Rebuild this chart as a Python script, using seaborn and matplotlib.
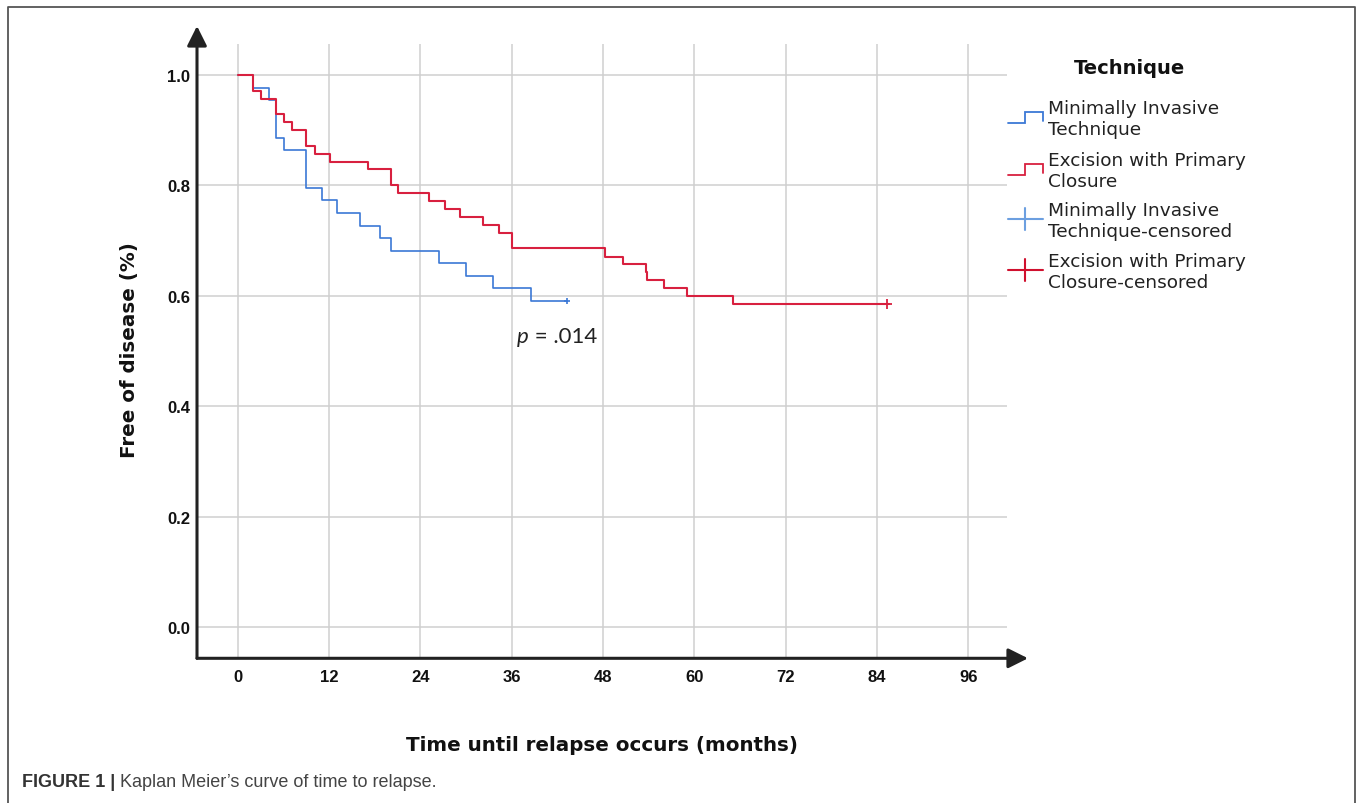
import numpy as np
import pandas as pd
import matplotlib
matplotlib.use("Agg")
import matplotlib.pyplot as plt
import seaborn as sns

# ---------------- data ----------------
mit_time = [0, 2.0, 4.1, 5.0, 6.1, 9.0, 11.1, 13.1, 16.1, 18.7, 20.1, 26.5, 30.0, 33.6, 38.6, 43.3]
mit_surv = [1.0, 0.977, 0.955, 0.886, 0.864, 0.795, 0.773, 0.750, 0.727, 0.705, 0.682, 0.659,
            0.636, 0.614, 0.591, 0.591]
mit_cens_time = [43.3]
mit_cens_surv = [0.591]

epc_time = [0, 2.0, 3.0, 5.0, 6.1, 7.2, 9.0, 10.1, 12.1, 17.1, 20.2, 21.1, 25.1, 27.2, 29.2,
            32.2, 34.3, 36.1, 48.3, 50.6, 53.6, 53.8, 56.0, 59.1, 65.1, 85.6]
epc_surv = [1.0, 0.971, 0.957, 0.929, 0.914, 0.900, 0.871, 0.857, 0.843, 0.829, 0.800, 0.786,
            0.771, 0.757, 0.743, 0.729, 0.714, 0.686, 0.671, 0.657, 0.643, 0.629, 0.614, 0.600,
            0.586, 0.586]
epc_cens_time = [85.3]
epc_cens_surv = [0.586]

x_ticks = [0, 12, 24, 36, 48, 60, 72, 84, 96]
y_ticks = [0.0, 0.2, 0.4, 0.6, 0.8, 1.0]
y_tick_labels = ["0.0", "0.2", "0.4", "0.6", "0.8", "1.0"]

legend_title = "Technique"
legend_labels = ["Minimally Invasive\nTechnique",
                 "Excision with Primary\nClosure",
                 "Minimally Invasive\nTechnique-censored",
                 "Excision with Primary\nClosure-censored"]
x_label = "Time until relapse occurs (months)"
y_label = "Free of disease (%)"
p_text = " = .014"
caption_bold = "FIGURE 1 | "
caption_rest = "Kaplan Meier\u2019s curve of time to relapse."

BLUE = "#3b78d6"
BLUE_C = "#6c9fe0"
RED = "#d8203f"
RED_C = "#d0102e"

df_mit = pd.DataFrame({"time": mit_time, "surv": mit_surv})
df_epc = pd.DataFrame({"time": epc_time, "surv": epc_surv})

# ---------------- figure ----------------
sns.set_style("white")
plt.rcParams["font.family"] = ["DejaVu Sans"]

W, H = 1358, 804
fig = plt.figure(figsize=(W / 100, H / 100), dpi=100)

ax_l, ax_r, ax_t, ax_b = 197, 1007, 45, 659.3
ax = fig.add_axes([ax_l / W, 1 - ax_b / H, (ax_r - ax_l) / W, (ax_b - ax_t) / H])
ax.set_xlim(-5.35, 101.1)
ax.set_ylim(-0.0561, 1.0561)

ax.set_xticks(x_ticks)
ax.set_yticks(y_ticks)
ax.set_yticklabels(y_tick_labels)
ax.grid(True, color="#cfcfcf", lw=1.1)
ax.set_axisbelow(True)
for s in ax.spines.values():
    s.set_visible(False)
ax.tick_params(axis="both", length=0)
ax.tick_params(axis="x", pad=8)
ax.tick_params(axis="y", pad=5)
for lab in ax.get_xticklabels() + ax.get_yticklabels():
    lab.set_fontfamily("Liberation Sans")
    lab.set_fontweight("bold")
    lab.set_fontsize(12)
    lab.set_color("#111111")

sns.lineplot(data=df_mit, x="time", y="surv", ax=ax, color=BLUE, lw=1.2,
             drawstyle="steps-post", estimator=None, sort=False, legend=False, zorder=3)
sns.lineplot(data=df_epc, x="time", y="surv", ax=ax, color=RED, lw=1.5,
             drawstyle="steps-post", estimator=None, sort=False, legend=False, zorder=4)
ax.plot(mit_cens_time, mit_cens_surv, ls="none", marker="+", ms=4, mew=1.2, color=BLUE, zorder=5)
ax.plot(epc_cens_time, epc_cens_surv, ls="none", marker="+", ms=7, mew=1.3, color=RED, zorder=5)

ax.set_xlabel("")
ax.set_ylabel("")

# axis arrows
arrow_kw = dict(arrowstyle="-|>,head_length=1.0,head_width=0.5", lw=2.2, color="#222222",
                shrinkA=0, shrinkB=0, mutation_scale=12)
ax.annotate("", xy=(0, (ax_b - 27) / (ax_b - ax_t)), xytext=(0, 0), xycoords="axes fraction",
            textcoords="axes fraction", arrowprops=arrow_kw, annotation_clip=False)
ax.annotate("", xy=((1028 - ax_l) / (ax_r - ax_l), 0), xytext=(0, 0), xycoords="axes fraction",
            textcoords="axes fraction", arrowprops=arrow_kw, annotation_clip=False)

# p value text
renderer = fig.canvas.get_renderer()
tp = ax.text(36.7, 0.5166, "p", fontfamily="Lato", fontstyle="italic", fontsize=16,
             color="#222222", va="baseline", ha="left")
bb = tp.get_window_extent(renderer)
x_disp = bb.x1
x_data = ax.transData.inverted().transform((x_disp, 0))[0]
ax.text(x_data, 0.5166, p_text, fontfamily="Lato", fontsize=16, color="#222222",
        va="baseline", ha="left")

# ---------------- overlay (labels, legend, frame, caption) ----------------
ov = fig.add_axes([0, 0, 1, 1], zorder=10)
ov.set_xlim(0, W)
ov.set_ylim(H, 0)
ov.axis("off")
ov.patch.set_alpha(0)

ov.text((ax_l + ax_r) / 2, 746, x_label, ha="center", va="center", fontsize=14.3,
        fontweight="bold", color="#111111")
ov.text(130, 350, y_label, ha="center", va="center", rotation=90, fontsize=14.3,
        fontweight="bold", color="#111111")

# legend
ov.text(1130, 68, legend_title, ha="center", va="center", fontsize=14, fontweight="bold",
        color="#111111")
centers = [119.5, 171.5, 221.5, 272.5]
for i, (c, lab) in enumerate(zip(centers, legend_labels)):
    ov.text(1048, c, lab, ha="left", va="center", fontsize=13.3, color="#222222",
            linespacing=1.25)
    if i < 2:
        col = BLUE if i == 0 else RED
        ov.plot([1008, 1025, 1025, 1043, 1043], [c + 4.5, c + 4.5, c - 7, c - 7, c + 2],
                color=col, lw=1.3, solid_joinstyle="miter")
    else:
        col = BLUE_C if i == 2 else RED_C
        ov.plot([1008, 1043], [c - 1.5, c - 1.5], color=col, lw=1.5)
        ov.plot([1025, 1025], [c - 12.5, c + 9.5], color=col, lw=1.5)

# frame
ov.plot([8, 8, 1355, 1355], [H + 5, 8, 8, H + 5], color="#555555", lw=1.3, clip_on=False)

# caption
cb = ov.text(22, 783, caption_bold, ha="left", va="center", fontfamily="Liberation Sans",
             fontweight="bold", fontsize=13, color="#333333")
bb = cb.get_window_extent(renderer)
x_next = ov.transData.inverted().transform((bb.x1, 0))[0]
ov.text(x_next, 783, caption_rest, ha="left", va="center", fontfamily="Liberation Sans",
        fontsize=13, color="#444444")

fig.savefig("out.png", dpi=100)
